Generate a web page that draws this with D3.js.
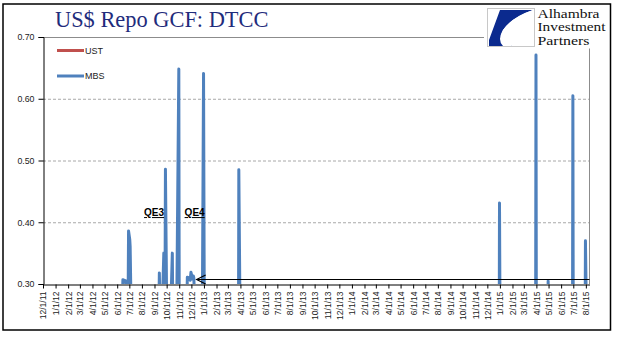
<!DOCTYPE html>
<html>
<head>
<meta charset="utf-8">
<script src="https://cdn.jsdelivr.net/npm/d3@7"></script>
<style>
  body { margin: 0; background: #fff; }
  svg { display: block; }
</style>
</head>
<body>
<svg id="chart" width="618" height="341"></svg>
<script>
// ---- data -------------------------------------------------------------
const title = "US$ Repo GCF: DTCC";
const seriesNames = ["UST", "MBS"];

// GCF MBS repo rate (%), daily observations around the spikes
const mbsDates = [
  "2011-12-01", "2012-06-14", "2012-06-15", "2012-06-19", "2012-06-22", "2012-06-25",
  "2012-06-28", "2012-06-29", "2012-07-02", "2012-07-03", "2012-07-05",
  "2012-09-12", "2012-09-13", "2012-09-14", "2012-09-21", "2012-09-24", "2012-09-25",
  "2012-09-27", "2012-09-28", "2012-10-01", "2012-10-12", "2012-10-15", "2012-10-16",
  "2012-10-26", "2012-10-31", "2012-11-01", "2012-11-20", "2012-11-21", "2012-11-26",
  "2012-11-28", "2012-11-30", "2012-12-04", "2012-12-06", "2012-12-07", "2012-12-10",
  "2012-12-28", "2012-12-31", "2013-01-02", "2013-03-27", "2013-03-28", "2013-04-01",
  "2014-12-30", "2014-12-31", "2015-01-02", "2015-03-30", "2015-03-31", "2015-04-01",
  "2015-04-29", "2015-04-30", "2015-05-01", "2015-06-29", "2015-06-30", "2015-07-01",
  "2015-07-30", "2015-07-31", "2015-08-03", "2015-08-10"
];
const mbsRates = [
  0.27, 0.27, 0.307, 0.306, 0.305, 0.28,
  0.28, 0.386, 0.372, 0.360, 0.27,
  0.27, 0.318, 0.28, 0.28, 0.350, 0.29,
  0.29, 0.486, 0.27, 0.28, 0.350, 0.27,
  0.27, 0.648, 0.27, 0.27, 0.311, 0.310,
  0.306, 0.319, 0.308, 0.313, 0.310, 0.26,
  0.25, 0.641, 0.22, 0.16, 0.485, 0.17,
  0.12, 0.431, 0.14, 0.16, 0.671, 0.18,
  0.20, 0.305, 0.20, 0.19, 0.605, 0.20,
  0.20, 0.370, 0.22, 0.21
];

// GCF Treasury repo rate (%), stays under the axis minimum throughout
const ustDates = [
  "2011-12-01", "2012-03-30", "2012-06-29", "2012-09-28", "2012-12-31", "2013-03-28",
  "2013-06-28", "2013-12-31", "2014-06-30", "2014-12-31", "2015-03-31", "2015-06-30",
  "2015-08-10"
];
const ustRates = [
  0.12, 0.20, 0.26, 0.28, 0.27, 0.20,
  0.12, 0.10, 0.11, 0.20, 0.25, 0.22,
  0.15
];

const yTicks = [0.30, 0.40, 0.50, 0.60, 0.70];
const xTickLabels = [
  "12/1/11",
  "1/1/12", "2/1/12", "3/1/12", "4/1/12", "5/1/12", "6/1/12", "7/1/12", "8/1/12", "9/1/12", "10/1/12", "11/1/12", "12/1/12",
  "1/1/13", "2/1/13", "3/1/13", "4/1/13", "5/1/13", "6/1/13", "7/1/13", "8/1/13", "9/1/13", "10/1/13", "11/1/13", "12/1/13",
  "1/1/14", "2/1/14", "3/1/14", "4/1/14", "5/1/14", "6/1/14", "7/1/14", "8/1/14", "9/1/14", "10/1/14", "11/1/14", "12/1/14",
  "1/1/15", "2/1/15", "3/1/15", "4/1/15", "5/1/15", "6/1/15", "7/1/15", "8/1/15"
];

// annotations
const qeLabels = [
  { text: "QE3", date: "2012-08-31", value: 0.41 },
  { text: "QE4", date: "2012-12-09", value: 0.41 }
];
const arrowStartDate = "2012-12-14";

// ---- layout -----------------------------------------------------------
const svg = d3.select("#chart");
const plot = { left: 43, right: 589.5, top: 37, bottom: 284 };
const colors = { UST: "#C0504D", MBS: "#4F81BD" };

const parseIso = d3.timeParse("%Y-%m-%d");
const parseTick = d3.timeParse("%m/%d/%y");

const x = d3.scaleTime()
  .domain([parseIso("2011-12-01"), parseIso("2015-08-10")])
  .range([plot.left, plot.right]);
const y = d3.scaleLinear()
  .domain([0.30, 0.70])
  .range([plot.bottom, plot.top]);

const mbs = mbsDates.map((d, i) => ({ date: parseIso(d), value: mbsRates[i] }));
const ust = ustDates.map((d, i) => ({ date: parseIso(d), value: ustRates[i] }));
const tickDates = xTickLabels.map(parseTick);

// outer frame
svg.append("rect")
  .attr("x", 3).attr("y", 4).attr("width", 607.5).attr("height", 326)
  .attr("fill", "#fff").attr("stroke", "#000").attr("stroke-width", 1.5);

// title
svg.append("text")
  .attr("x", 55).attr("y", 27)
  .attr("font-family", "'Liberation Serif', 'Times New Roman', serif")
  .attr("font-size", 22.4)
  .attr("fill", "#1F2C7C")
  .text(title);

// horizontal gridlines
svg.append("g")
  .selectAll("line")
  .data(yTicks.filter(t => t > 0.30 && t < 0.70))
  .join("line")
  .attr("x1", plot.left).attr("x2", plot.right)
  .attr("y1", d => y(d) + 0.5).attr("y2", d => y(d) + 0.5)
  .attr("stroke", "#A8A8A8").attr("stroke-width", 1)
  .attr("stroke-dasharray", "3,2");

// plot area border (top and right)
svg.append("path")
  .attr("d", `M${plot.left},${y(0.70) + 0.5}H${plot.right}V${plot.bottom}`)
  .attr("fill", "none").attr("stroke", "#8C8C8C").attr("stroke-width", 1);

// series lines, clipped to the plot area
svg.append("clipPath").attr("id", "plot-clip")
  .append("rect")
  .attr("x", plot.left).attr("y", plot.top)
  .attr("width", plot.right - plot.left).attr("height", plot.bottom - plot.top);

const line = d3.line().x(d => x(d.date)).y(d => y(d.value));
const lines = svg.append("g").attr("clip-path", "url(#plot-clip)");
lines.append("path").datum(ust)
  .attr("d", line).attr("fill", "none")
  .attr("stroke", colors.UST).attr("stroke-width", 3)
  .attr("stroke-linejoin", "round");
lines.append("path").datum(mbs)
  .attr("d", line).attr("fill", "none")
  .attr("stroke", colors.MBS).attr("stroke-width", 3)
  .attr("stroke-linejoin", "round");

// y axis
const yAxis = svg.append("g")
  .attr("transform", `translate(${plot.left + 0.5},0)`)
  .call(d3.axisLeft(y).tickValues(yTicks).tickFormat(d3.format(".2f")).tickSize(5).tickPadding(4));
yAxis.select(".domain").attr("stroke", "#000");
yAxis.selectAll(".tick line").attr("stroke", "#000");
yAxis.selectAll(".tick text")
  .attr("font-family", "'Liberation Sans', Arial, sans-serif")
  .attr("font-size", 8.8).attr("fill", "#222");

// x axis
const xAxis = svg.append("g")
  .attr("transform", `translate(0,${plot.bottom + 0.5})`)
  .call(d3.axisBottom(x).tickValues(tickDates).tickFormat((d, i) => xTickLabels[i]).tickSize(4).tickSizeOuter(0));
xAxis.select(".domain").attr("stroke", "#000");
xAxis.selectAll(".tick line").attr("stroke", "#000");
xAxis.selectAll(".tick text")
  .attr("font-family", "'Liberation Sans', Arial, sans-serif")
  .attr("font-size", 8.5).attr("fill", "#222")
  .attr("text-anchor", "end")
  .attr("transform", "translate(0,7) rotate(-90)")
  .attr("x", 0).attr("y", 0).attr("dy", "0.35em");

// arrow marking the QE4 period
const arrowY = y(0.30) - 4.5;
const ax0 = x(parseIso(arrowStartDate));
svg.append("line")
  .attr("x1", ax0).attr("x2", plot.right)
  .attr("y1", arrowY).attr("y2", arrowY)
  .attr("stroke", "#000").attr("stroke-width", 1.2);
svg.append("path")
  .attr("d", `M${ax0 + 9},${arrowY - 4.5}L${ax0},${arrowY}L${ax0 + 9},${arrowY + 4.5}`)
  .attr("fill", "none").attr("stroke", "#000").attr("stroke-width", 1.2);

// QE labels
svg.append("g")
  .selectAll("text")
  .data(qeLabels)
  .join("text")
  .attr("x", d => x(parseIso(d.date)))
  .attr("y", d => y(d.value))
  .attr("text-anchor", "middle")
  .attr("font-family", "'Liberation Sans', Arial, sans-serif")
  .attr("font-weight", "bold")
  .attr("font-size", 10)
  .attr("text-decoration", "underline")
  .attr("fill", "#000")
  .text(d => d.text);

// legend
const legend = svg.append("g")
  .selectAll("g")
  .data(seriesNames)
  .join("g")
  .attr("transform", (d, i) => `translate(57,${50.5 + i * 25.5})`);
legend.append("line")
  .attr("x1", 0).attr("x2", 27).attr("y1", 0).attr("y2", 0)
  .attr("stroke", d => colors[d]).attr("stroke-width", 3);
legend.append("text")
  .attr("x", 28).attr("y", 0).attr("dy", "0.35em")
  .attr("font-family", "'Liberation Sans', Arial, sans-serif")
  .attr("font-size", 9).attr("fill", "#222")
  .text(d => d);

// logo block
const logo = svg.append("g");
logo.append("rect")
  .attr("x", 484).attr("y", 5.5).attr("width", 125).attr("height", 43)
  .attr("fill", "#fff");
logo.append("rect")
  .attr("x", 487.5).attr("y", 8.5).attr("width", 47).attr("height", 38)
  .attr("fill", "#fff").attr("stroke", "#C8C8C8").attr("stroke-width", 1);
logo.append("path")
  .attr("d", "M500,10 L533,10 Q512,17 503,30 Q497,40 512,46 L489,46 L489,40 Z")
  .attr("fill", "#0B2A8E");
logo.append("path")
  .attr("d", "M533,10 L533,13 Q516,19 508,30 Q502,38 512,46 L503,46 Q497,40 503,30 Q512,17 533,10 Z")
  .attr("fill", "#fff");
logo.selectAll("text.logo")
  .data(["Alhambra", "Investment", "Partners"])
  .join("text")
  .attr("class", "logo")
  .attr("x", 537.5)
  .attr("y", (d, i) => 17.5 + i * 13.5)
  .attr("font-family", "'Liberation Serif', 'Times New Roman', serif")
  .attr("font-size", 12)
  .attr("textLength", (d, i) => [62, 68, 52][i])
  .attr("lengthAdjust", "spacingAndGlyphs")
  .attr("fill", "#111")
  .text(d => d);
</script>
</body>
</html>
